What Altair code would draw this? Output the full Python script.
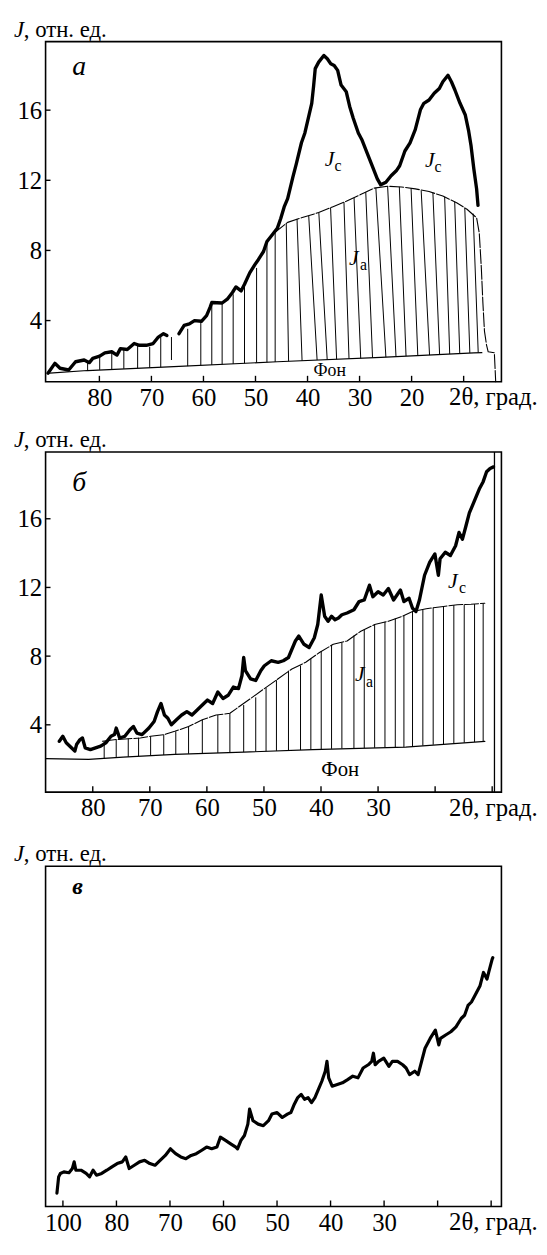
import altair as alt
import pandas as pd

FONT = "Liberation Serif, Times New Roman, Tinos, DejaVu Serif, serif"
W = 461
H = 344

# ================= Panel а =================
a_tot1_x = [89.88, 88.56, 87.56, 85.90, 84.58, 82.92, 81.93, 81.27, 79.94, 78.95,
            77.62, 76.63, 75.96, 74.64, 73.31, 72.32, 70.99, 69.67, 68.67, 67.68, 67.02]
a_tot1_y = [1.00, 1.56, 1.28, 1.18, 1.65, 1.75, 1.60, 1.84, 1.97, 2.16,
            2.22, 2.03, 2.40, 2.35, 2.69, 2.59, 2.59, 2.69, 3.06, 3.25, 3.15]
a_tot2_x = [64.70, 63.71, 62.71, 61.72, 60.39, 59.40, 58.73, 58.40, 56.41, 55.42,
            54.43, 53.76, 52.77, 52.11, 51.11, 50.12, 49.46, 48.46, 47.80, 46.81,
            45.81, 45.15, 44.49, 43.82, 42.83, 42.17, 41.17, 40.51, 39.85, 39.19,
            38.85, 38.52, 37.86, 36.87, 36.20, 35.54, 34.88, 34.21, 33.55, 32.56,
            31.90, 31.23, 30.24, 29.58, 28.58, 27.59, 26.59, 25.93, 24.94, 23.94,
            22.95, 22.29, 21.29, 20.30, 19.30, 18.31, 17.65, 16.65, 15.66, 14.67,
            14.00, 13.01, 12.35, 11.68, 10.69, 9.70, 9.03, 8.57, 8.04, 7.51, 7.24]
a_tot2_y = [3.25, 3.72, 3.81, 4.00, 3.96, 4.28, 4.75, 5.03, 5.00, 5.22,
            5.60, 5.92, 5.69, 6.07, 6.72, 7.19, 7.47, 7.94, 8.51, 8.88,
            9.26, 9.82, 10.48, 10.95, 12.17, 12.92, 14.14, 14.70, 15.55, 16.39,
            17.33, 18.37, 18.74, 19.12, 18.93, 18.65, 18.55, 18.27, 17.43, 17.05,
            16.21, 15.55, 14.70, 14.33, 13.58, 12.83, 12.08, 11.74, 11.89, 12.26,
            12.54, 12.83, 13.67, 14.14, 14.89, 16.02, 16.39, 16.58, 16.96, 17.24,
            17.62, 17.99, 17.62, 17.15, 16.39, 15.74, 14.80, 13.95, 12.64, 11.51, 10.57]
a_ja_x = [46.47, 43.82, 41.17, 37.86, 35.21, 32.56, 29.91, 27.26, 24.61, 21.96,
          19.30, 16.65, 14.00, 11.35, 9.36, 7.51, 7.00, 6.60, 6.30, 6.00,
          5.60, 5.28, 4.10, 3.84]
a_ja_y = [8.98, 9.60, 9.86, 10.16, 10.48, 10.80, 11.17, 11.55, 11.66, 11.62,
          11.51, 11.36, 11.10, 10.72, 10.35, 9.86, 9.00, 7.00, 5.00, 3.40,
          2.60, 2.22, 2.16, 0.51]
a_bg_x = [89.55, 82.30, 65.70, 45.80, 25.90, 8.04, 6.50]
a_bg_y = [1.00, 1.15, 1.37, 1.65, 1.90, 2.16, 2.17]
a_h_xtop = [82.26, 79.94, 77.62, 75.30, 72.65, 70.33, 68.21, 66.15, 63.03, 60.51,
            58.40, 56.41, 54.29, 52.11, 49.79, 47.80,
            46.22, 44.09, 42.02, 39.77, 37.83, 35.57, 33.00, 31.06, 28.81, 26.87,
            24.61, 22.36, 20.10, 18.16, 15.91, 13.65, 11.72, 9.78, 8.17]
a_h_xbot = [82.26, 79.94, 77.62, 75.30, 72.65, 70.33, 68.21, 66.15, 63.03, 60.51,
            58.40, 56.41, 54.29, 52.11, 49.79, 47.80,
            46.22, 43.64, 41.05, 38.16, 36.22, 34.41, 32.03, 29.78, 27.51, 24.94,
            23.00, 21.07, 18.81, 16.55, 14.62, 12.68, 10.75, 8.81, 7.20]
a_h_ytop = [1.75, 1.97, 2.22, 2.35, 2.59, 2.50, 3.06, 3.06, 3.53, 3.96,
            5.03, 5.00, 5.50, 6.07, 7.00, 8.41,
            9.00, 9.55, 9.80, 9.97, 10.16, 10.43, 10.75, 11.00, 11.33, 11.57,
            11.66, 11.63, 11.54, 11.42, 11.30, 11.06, 10.78, 10.42, 10.10]
a_h_ybot = [1.15, 1.19, 1.22, 1.25, 1.28, 1.31, 1.34, 1.75, 1.40, 1.44,
            1.47, 1.50, 1.53, 1.56, 1.59, 1.62,
            1.64, 1.68, 1.71, 1.75, 1.77, 1.79, 1.82, 1.85, 1.88, 1.91,
            1.94, 1.97, 2.00, 2.03, 2.07, 2.09, 2.12, 2.15, 2.17]
a_xticks = [80, 70, 60, 50, 40, 30, 20, 10]
a_xlabels = [80, 70, 60, 50, 40, 30, 20]
a_yticks = [4, 8, 12, 16]
a_J_x = [35.74, 16.52, 31.10]
a_J_y = [12.83, 12.73, 7.19]
a_sub_x = [34.15, 14.93, 29.25]
a_sub_y = [12.54, 12.45, 6.91]
a_sub_t = ["с", "с", "а"]
a_fon = (35.74, 0.81)

# ================= Panel б =================
b_tot_x = [85.86, 85.25, 84.65, 83.74, 83.14, 82.84, 82.23, 81.81, 81.33, 80.42,
           79.52, 78.61, 77.71, 76.80, 76.20, 75.89, 75.29, 74.38, 73.48, 72.87,
           72.27, 71.36, 70.16, 69.25, 68.65, 68.04, 67.44, 66.84, 66.23, 65.33,
           64.42, 63.51, 62.61, 61.70, 60.80, 59.89, 58.99, 58.08, 57.17, 56.27,
           55.36, 54.46, 53.85, 53.55, 53.25, 52.34, 51.44, 50.53, 49.93, 48.72,
           47.51, 46.61, 45.70, 45.10, 44.49, 43.89, 42.98, 42.08, 41.17, 40.57,
           39.96, 39.36, 38.76, 38.15, 37.55, 36.94, 36.34, 35.43, 34.23, 33.32,
           32.42, 31.51, 30.91, 30.00, 29.09, 28.19, 27.28, 26.68, 26.08, 25.47,
           24.57, 23.96, 23.36, 22.75, 21.85, 20.94, 20.04, 19.43, 19.13, 18.22,
           17.32, 16.41, 15.81, 15.21, 14.60, 14.00, 13.39, 12.79, 12.19, 11.58,
           10.98, 10.37, 9.77]
b_tot_y = [3.04, 3.33, 2.95, 2.66, 2.47, 2.85, 3.14, 3.23, 2.66, 2.56,
           2.66, 2.76, 2.95, 3.33, 3.43, 3.81, 3.23, 3.33, 3.71, 3.90,
           3.52, 3.43, 3.81, 4.19, 4.77, 5.24, 4.57, 4.38, 4.00, 4.29,
           4.57, 4.77, 4.57, 4.86, 5.15, 5.44, 5.24, 5.91, 5.53, 5.72,
           6.20, 6.11, 6.87, 7.92, 7.16, 6.68, 6.58, 7.16, 7.44, 7.73,
           7.64, 7.73, 7.92, 8.40, 8.88, 9.17, 8.69, 8.50, 9.07, 9.84,
           11.56, 10.32, 10.03, 10.32, 10.12, 10.22, 10.41, 10.51, 10.70, 11.18,
           11.27, 12.13, 11.46, 11.75, 11.56, 11.94, 11.27, 11.56, 11.85, 11.18,
           11.37, 10.79, 10.60, 11.27, 12.71, 13.47, 13.95, 12.71, 13.67, 14.05,
           13.86, 14.43, 15.20, 14.81, 15.58, 16.34, 16.82, 17.30, 17.78, 18.16,
           18.74, 18.93, 19.02]
b_ja_x = [78.31, 75.89, 71.67, 69.86, 67.44, 65.63, 63.21, 60.80, 58.38, 55.97,
          54.76, 52.34, 49.93, 47.51, 45.10, 42.68, 40.27, 37.85, 35.43, 33.02,
          30.60, 28.19, 25.77, 23.96, 21.55, 18.53, 16.11, 13.70, 11.28]
b_ja_y = [3.04, 3.14, 3.23, 3.33, 3.43, 3.62, 3.90, 4.29, 4.57, 4.67,
          4.96, 5.53, 6.11, 6.68, 7.25, 7.64, 8.21, 8.69, 8.88, 9.45,
          9.84, 10.03, 10.32, 10.60, 10.76, 10.89, 10.99, 11.02, 11.08]
b_bg_x = [88.27, 80.72, 74.69, 65.63, 53.55, 41.47, 25.17, 11.28]
b_bg_y = [2.03, 1.99, 2.12, 2.28, 2.41, 2.56, 2.70, 3.04]
b_h_x = [78.00, 75.89, 73.78, 71.97, 69.86, 67.56, 65.45, 63.21, 60.80, 58.08,
         55.97, 53.55, 51.44, 49.63, 47.81, 45.70, 43.59, 41.78, 39.96, 38.15,
         36.34, 34.23, 32.42, 30.60, 28.79, 26.98, 25.47, 23.96, 22.15, 20.34,
         18.53, 16.72, 14.90, 13.09, 11.58]
b_h_ytop = [3.05, 3.14, 3.20, 3.25, 3.33, 3.43, 3.62, 3.90, 4.29, 4.57,
            4.67, 5.15, 5.60, 6.15, 6.60, 7.15, 7.45, 7.85, 8.30, 8.65,
            8.80, 9.20, 9.55, 9.84, 10.00, 10.20, 10.35, 10.60, 10.72, 10.82,
            10.89, 10.97, 11.00, 11.03, 11.07]
b_h_ybot = [2.05, 2.08, 2.13, 2.17, 2.20, 2.24, 2.28, 2.31, 2.33, 2.36,
            2.38, 2.41, 2.44, 2.46, 2.48, 2.51, 2.53, 2.56, 2.58, 2.60,
            2.62, 2.64, 2.65, 2.66, 2.68, 2.69, 2.70, 2.75, 2.79, 2.84,
            2.88, 2.93, 2.96, 3.00, 3.03]
b_edge_x = 9.6
b_xticks = [80, 70, 60, 50, 40, 30, 20, 10]
b_xlabels = [80, 70, 60, 50, 40, 30]
b_yticks = [4, 8, 12, 16]
b_J_x = [16.90, 33.20]
b_J_y = [11.94, 6.58]
b_sub_x = [15.20, 31.50]
b_sub_y = [11.66, 6.20]
b_sub_t = ["с", "а"]
b_fon = (36.64, 1.03)

# ================= Panel в =================
c_tot_x = [91.12, 90.80, 90.48, 89.83, 88.87, 88.23, 87.90, 87.58, 86.62, 85.66,
           85.01, 84.37, 83.73, 82.76, 81.80, 80.84, 79.87, 78.91, 78.26, 77.62,
           76.66, 75.69, 74.73, 73.77, 72.80, 71.84, 70.87, 69.91, 68.95, 67.98,
           67.02, 66.05, 65.09, 64.13, 63.16, 62.20, 61.23, 60.59, 59.63, 58.66,
           57.70, 57.38, 56.74, 56.09, 55.45, 55.13, 54.49, 53.52, 52.56, 51.59,
           50.95, 49.99, 49.02, 48.06, 47.42, 46.77, 46.13, 45.49, 44.85, 44.20,
           43.56, 42.92, 42.27, 41.63, 40.99, 40.67, 40.35, 39.70, 38.74, 37.78,
           36.81, 35.85, 34.88, 33.92, 32.96, 32.31, 31.99, 31.67, 31.03, 30.06,
           29.10, 28.46, 27.49, 26.53, 25.89, 25.24, 24.28, 23.64, 22.99, 22.35,
           21.39, 20.42, 19.78, 19.46, 18.50, 17.53, 16.57, 15.60, 14.96, 14.32,
           13.68, 13.03, 12.07, 11.43, 10.78, 10.46, 9.82, 9.69]
c_tot_y = [0.78, 1.74, 1.94, 2.03, 1.98, 2.23, 2.62, 2.13, 2.13, 1.94,
           1.74, 2.13, 1.84, 1.94, 2.13, 2.33, 2.52, 2.62, 2.91, 2.23,
           2.42, 2.62, 2.71, 2.52, 2.42, 2.71, 3.00, 3.39, 3.10, 2.91,
           2.81, 3.00, 3.10, 3.29, 3.49, 3.39, 3.49, 4.07, 3.88, 3.68,
           3.49, 3.39, 3.88, 4.17, 4.84, 5.72, 5.04, 4.84, 4.75, 5.04,
           5.43, 5.52, 5.23, 5.43, 5.52, 6.01, 6.40, 6.59, 6.30, 6.40,
           6.10, 6.40, 6.88, 7.36, 7.95, 8.53, 7.56, 7.07, 7.17, 7.27,
           7.46, 7.66, 7.56, 8.14, 8.33, 8.53, 9.01, 8.33, 8.53, 8.72,
           8.24, 8.53, 8.53, 8.33, 8.14, 7.75, 7.95, 7.75, 8.53, 9.30,
           9.88, 10.37, 9.50, 9.88, 10.08, 10.27, 10.56, 11.05, 11.24, 11.82,
           12.02, 12.40, 12.98, 13.76, 13.37, 13.76, 14.53, 14.63]
c_xticks = [90, 80, 70, 60, 50, 40, 30, 20, 10]
c_xlabels = [90, 80, 70, 60, 50, 40, 30]

LBL = 25


def panel(xdom, ydom, xlabels, label_expr, xticks, yticks, lines, hatch,
          jx, jy, subx, suby, subt, fon, fon_size, letter, letter_y, letter_size,
          letter_bold, edge_x=None):
    xs = alt.Scale(domain=xdom, reverse=True, nice=False, zero=False)
    ys = alt.Scale(domain=ydom, nice=False, zero=False)
    xax = alt.Axis(values=xlabels, labelExpr=label_expr, ticks=False, domain=False,
                   grid=False, title=None, labelFontSize=LBL, labelPadding=4,
                   labelFont=FONT, labelColor="black", labelFlush=False,
                   labelOverlap=False)
    if yticks:
        yax = alt.Axis(values=yticks, ticks=False, domain=False, grid=False,
                       title=None, labelFontSize=LBL, labelPadding=4, labelFont=FONT,
                       labelColor="black", labelOverlap=False)
    else:
        yax = None

    def X(f):
        return alt.X(f, type="quantitative", scale=xs, axis=xax)

    def Y(f):
        return alt.Y(f, type="quantitative", scale=ys, axis=yax)

    layers = []
    if hatch is not None:
        layers.append(alt.Chart(hatch).mark_rule(color="black", strokeWidth=1).encode(
            x=X("x"), x2="x2", y=Y("y"), y2="y2"))
    for d, sw, dash in lines:
        kw = dict(color="black", strokeWidth=sw, strokeJoin="round", strokeCap="round")
        if dash:
            kw["strokeDash"] = dash
        layers.append(alt.Chart(d).mark_line(**kw).encode(
            x=X("x"), y=Y("y"), detail="seg:N"))
    if edge_x is not None:
        layers.append(alt.Chart(pd.DataFrame({"x": [edge_x]})).mark_rule(
            color="black", strokeWidth=1.3).encode(x=X("x"), y=alt.value(0), y2=alt.value(H)))
    # inward ticks
    layers.append(alt.Chart(pd.DataFrame({"x": xticks})).mark_rule(
        color="black", strokeWidth=1.4).encode(x=X("x"), y=alt.value(H), y2=alt.value(H - 6)))
    if yticks:
        layers.append(alt.Chart(pd.DataFrame({"y": yticks})).mark_rule(
            color="black", strokeWidth=1.4).encode(y=Y("y"), x=alt.value(0), x2=alt.value(5)))
    # 2θ label (last x-axis label)
    layers.append(alt.Chart(pd.DataFrame({"t": ["2θ, град."]})).mark_text(
        align="left", baseline="alphabetic", fontSize=LBL, color="black",
        font=FONT).encode(x=alt.value(408), y=alt.value(H + 24), text="t:N"))
    # axis title J, отн. ед.
    layers.append(alt.Chart(pd.DataFrame({"t": ["J"]})).mark_text(
        align="left", baseline="alphabetic", fontSize=23, fontStyle="italic",
        color="black", font=FONT).encode(x=alt.value(-32), y=alt.value(-5), text="t:N"))
    layers.append(alt.Chart(pd.DataFrame({"t": [", отн. ед."]})).mark_text(
        align="left", baseline="alphabetic", fontSize=23, color="black",
        font=FONT).encode(x=alt.value(-22), y=alt.value(-5), text="t:N"))
    # panel letter
    layers.append(alt.Chart(pd.DataFrame({"t": [letter]})).mark_text(
        align="left", baseline="alphabetic", fontSize=letter_size, fontStyle="italic",
        fontWeight="bold" if letter_bold else "normal", color="black",
        font=FONT).encode(x=alt.value(27), y=alt.value(letter_y), text="t:N"))
    if jx:
        layers.append(alt.Chart(pd.DataFrame({"x": jx, "y": jy, "t": ["J"] * len(jx)})).mark_text(
            align="center", baseline="alphabetic", fontSize=22, fontStyle="italic",
            color="black", font=FONT).encode(x=X("x"), y=Y("y"), text="t:N"))
        layers.append(alt.Chart(pd.DataFrame({"x": subx, "y": suby, "t": subt})).mark_text(
            align="center", baseline="alphabetic", fontSize=16, color="black",
            font=FONT).encode(x=X("x"), y=Y("y"), text="t:N"))
    if fon:
        layers.append(alt.Chart(pd.DataFrame({"x": [fon[0]], "y": [fon[1]], "t": ["Фон"]})).mark_text(
            align="center", baseline="alphabetic", fontSize=fon_size, color="black",
            font=FONT).encode(x=X("x"), y=Y("y"), text="t:N"))
    return alt.layer(*layers).properties(width=W, height=H)


def xy(xs, ys, seg=0):
    return pd.DataFrame({"x": xs, "y": ys, "seg": seg})


a_tot = pd.concat([xy(a_tot1_x, a_tot1_y, 0), xy(a_tot2_x, a_tot2_y, 1)])
a_hatch = pd.DataFrame({"x": a_h_xtop, "x2": a_h_xbot, "y": a_h_ytop, "y2": a_h_ybot})
pa = panel([2.74, 90.34], [0.51, 19.91], a_xlabels, "datum.label", a_xticks, a_yticks,
           [(xy(a_bg_x, a_bg_y), 1.2, None), (xy(a_ja_x, a_ja_y), 1.1, [14, 2]),
            (a_tot, 3.4, None)],
           a_hatch, a_J_x, a_J_y, a_sub_x, a_sub_y, a_sub_t, a_fon, 18,
           "а", 34, 28, False)

b_hatch = pd.DataFrame({"x": b_h_x, "x2": b_h_x, "y": b_h_ytop, "y2": b_h_ybot})
pb = panel([8.38, 88.27], [0.08, 19.89], b_xlabels, "datum.label", b_xticks, b_yticks,
           [(xy(b_bg_x, b_bg_y), 1.2, None), (xy(b_ja_x, b_ja_y), 1.1, [14, 2]),
            (xy(b_tot_x, b_tot_y), 3.4, None)],
           b_hatch, b_J_x, b_J_y, b_sub_x, b_sub_y, b_sub_t, b_fon, 21,
           "б", 39, 28, False, edge_x=b_edge_x)

pc = panel([8.08, 93.24], [0, 20], c_xlabels,
           "datum.value == 90 ? '100' : datum.label", c_xticks, [],
           [(xy(c_tot_x, c_tot_y), 3.2, None)],
           None, [], [], [], [], [], None, 20,
           "в", 28, 24, True)

chart = alt.vconcat(
    pa,
    alt.vconcat(pb, pc, spacing=75, bounds="flush"),
    spacing=71, bounds="flush"
).configure(
    padding={"left": 5, "top": 3, "right": 0, "bottom": 0},
    font=FONT,
).configure_view(stroke="black", strokeWidth=1.6)

chart.save("out.html", embed_options={"renderer": "svg", "actions": False})
